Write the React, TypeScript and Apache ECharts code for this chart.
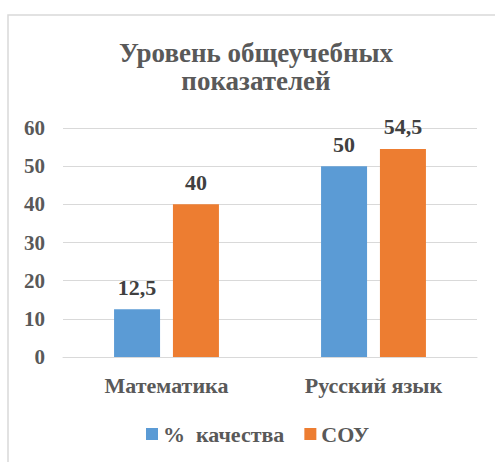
import React, { useEffect, useRef } from "react";
import * as echarts from "echarts";

const categories = ["Математика", "Русский язык"];
const qualityValues = [12.5, 50];
const souValues = [40, 54.5];
const seriesNames = ["%  качества", "СОУ"];
const titleText = "Уровень общеучебных\nпоказателей";

const FONT = "Liberation Serif";

export default function App() {
  const ref = useRef<HTMLDivElement>(null);
  useEffect(() => {
    const chart = echarts.init(ref.current!, null, { renderer: "svg" });
    const labelFmt = (p: any) => String(p.value).replace(".", ",");
    const valueLabel = {
      show: true,
      position: "top",
      distance: 11,
      formatter: labelFmt,
      fontFamily: FONT,
      fontWeight: "bold",
      fontSize: 22,
      color: "#404040",
    };
    chart.setOption({
      animation: false,
      backgroundColor: "#ffffff",
      graphic: [
        {
          type: "rect",
          shape: { x: 8, y: 15, width: 600, height: 600, r: 0 },
          style: { fill: "none", stroke: "#d9d9d9", lineWidth: 1.5 },
          silent: true,
        },
      ],
      title: {
        text: titleText,
        left: 256,
        textAlign: "center",
        top: 39,
        padding: 0,
        textStyle: {
          fontFamily: FONT,
          fontWeight: "bold",
          fontSize: 27,
          color: "#595959",
          lineHeight: 28,
        },
      },
      legend: {
        data: seriesNames,
        top: 423,
        left: 146,
        padding: 0,
        icon: "rect",
        itemWidth: 12,
        itemHeight: 12,
        itemGap: 20,
        textStyle: {
          fontFamily: FONT,
          fontWeight: "bold",
          fontSize: 22,
          color: "#595959",
        },
      },
      grid: { left: 63, right: 18, top: 128, bottom: 105, containLabel: false },
      xAxis: {
        type: "category",
        data: categories,
        axisLine: { lineStyle: { color: "#d9d9d9", width: 1 } },
        axisTick: { show: false },
        axisLabel: {
          margin: 17,
          fontFamily: FONT,
          fontWeight: "bold",
          fontSize: 22,
          color: "#595959",
        },
      },
      yAxis: {
        type: "value",
        min: 0,
        max: 60,
        interval: 10,
        axisLine: { show: false },
        axisTick: { show: false },
        splitLine: { lineStyle: { color: "#d9d9d9", width: 1 } },
        axisLabel: {
          margin: 18,
          fontFamily: FONT,
          fontWeight: "bold",
          fontSize: 21,
          color: "#595959",
        },
      },
      series: [
        {
          name: seriesNames[0],
          type: "bar",
          data: qualityValues,
          barWidth: 46,
          barGap: "28%",
          itemStyle: { color: "#5b9bd5" },
          label: valueLabel,
        },
        {
          name: seriesNames[1],
          type: "bar",
          data: souValues,
          barWidth: 46,
          barGap: "28%",
          itemStyle: { color: "#ed7d31" },
          label: valueLabel,
        },
      ],
    });
    return () => chart.dispose();
  }, []);
  return (
    <div
      ref={ref}
      style={{ position: "fixed", left: 0, top: 0, width: 495, height: 462 }}
    />
  );
}
